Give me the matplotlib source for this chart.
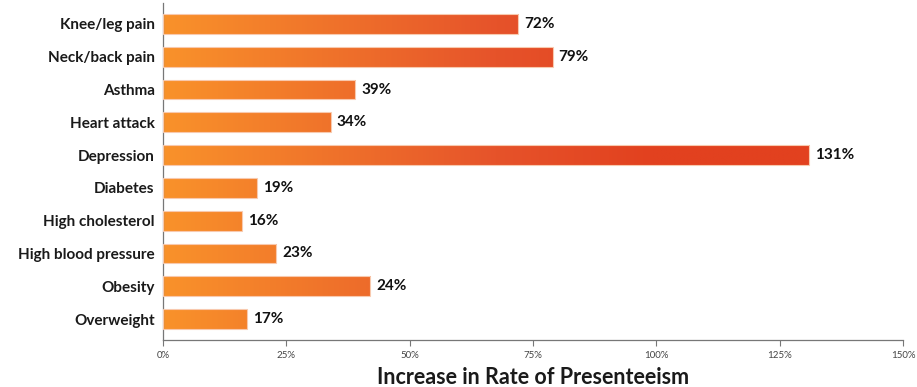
import numpy as np
import matplotlib

matplotlib.use("Agg")
import matplotlib.pyplot as plt
from matplotlib.colors import LinearSegmentedColormap
from matplotlib.patches import Rectangle

plt.rcParams["font.family"] = ["Lato", "DejaVu Sans"]

categories = [
    "Knee/leg pain",
    "Neck/back pain",
    "Asthma",
    "Heart attack",
    "Depression",
    "Diabetes",
    "High cholesterol",
    "High blood pressure",
    "Obesity",
    "Overweight",
]
# bar lengths as drawn (obesity bar is drawn longer than its label)
bar_values = [72, 79, 39, 34, 131, 19, 16, 23, 42, 17]
value_labels = ["72%", "79%", "39%", "34%", "131%", "19%", "16%", "23%", "24%", "17%"]
xticks = [0, 25, 50, 75, 100, 125, 150]
xtick_labels = ["0%", "25%", "50%", "75%", "100%", "125%", "150%"]

cmap = LinearSegmentedColormap.from_list(
    "orange_red", [(0, "#f9922b"), (0.45, "#e6532a"), (0.66, "#e2411f"), (1, "#e2411f")]
)

fig = plt.figure(figsize=(9.17, 3.87), dpi=100)
ax = fig.add_axes([163 / 917, 1 - 340 / 387, 740 / 917, 337 / 387])

bar_h = 0.6
grad = np.linspace(0, 150, 512)[None, :]
for i, v in enumerate(bar_values):
    rect = Rectangle((0, i - bar_h / 2), v, bar_h, facecolor="none", edgecolor="none")
    ax.add_patch(rect)
    im = ax.imshow(
        grad,
        extent=[0, 150, i + bar_h / 2, i - bar_h / 2],
        cmap=cmap,
        vmin=0,
        vmax=150,
        aspect="auto",
        interpolation="bilinear",
        zorder=2,
    )
    im.set_clip_path(rect)
    ax.add_patch(
        Rectangle(
            (0, i - bar_h / 2), v, bar_h,
            facecolor="none", edgecolor="#f8c9ae", lw=0.8, zorder=3,
        )
    )
    ax.text(
        v + 1.2, i, value_labels[i],
        ha="left", va="center", fontsize=11, fontweight="bold", color="#111111",
    )

ax.set_xlim(0, 150)
ax.set_ylim(len(categories) - 1 + 0.64, -0.64)
ax.set_yticks(range(len(categories)))
ax.set_yticklabels(categories, fontsize=11, fontweight="bold", color="#1a1a1a")
ax.tick_params(axis="y", length=0, pad=6)
ax.set_xticks(xticks)
ax.set_xticklabels(xtick_labels, fontsize=7, color="#444444")
ax.tick_params(axis="x", length=4, width=0.8, color="#777777", pad=4)

for s in ["top", "right"]:
    ax.spines[s].set_visible(False)
for s in ["left", "bottom"]:
    ax.spines[s].set_color("#777777")
    ax.spines[s].set_linewidth(0.9)

fig.text(
    533 / 917, 1 - 378 / 387, "Increase in Rate of Presenteeism",
    ha="center", va="center", fontsize=15.5, fontweight="bold", color="#1a1a1a",
)

fig.savefig("out.png", dpi=100)
